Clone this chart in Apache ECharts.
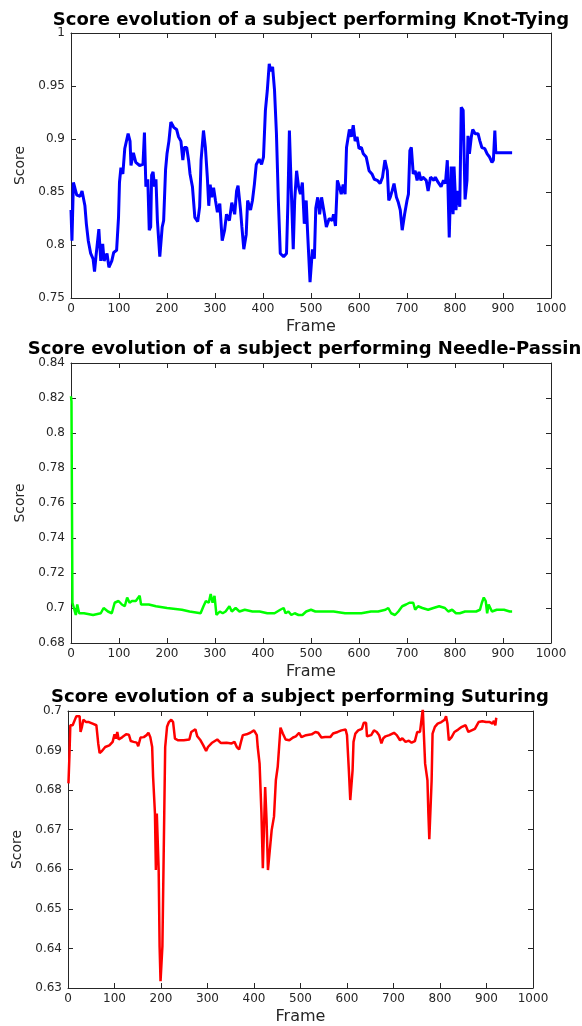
<!DOCTYPE html>
<html>
<head>
<meta charset="utf-8">
<script src="https://cdn.jsdelivr.net/npm/echarts@6.0.0/dist/echarts.min.js"></script>
<style>
html, body { margin: 0; padding: 0; background: #fff; }
#main { width: 582px; height: 1026px; }
</style>
</head>
<body>
<div id="main"></div>
<script>
// knot-tying (blue)
var knotFrames = [0,2,5,8,12,19,23,27,29,32,36,41,46,49,52,58,62,66,69,75,79,85,89,95,99,101,104,108,112,116,119,123,125,130,135,143,150,153,156,160,163,166,168,171,174,177,180,185,190,193,197,200,204,208,214,220,224,229,233,236,241,245,248,253,258,264,268,271,276,280,284,287,290,293,297,301,305,310,315,320,324,330,335,341,345,348,353,356,360,365,368,374,378,382,386,392,397,401,405,409,413,416,420,424,428,432,436,443,449,452,455,459,463,466,470,474,478,482,486,490,493,498,503,507,510,514,518,522,528,532,538,544,547,551,555,559,563,567,571,574,580,584,588,592,596,600,605,609,615,621,627,632,638,644,649,654,659,662,665,669,673,678,682,686,690,695,700,703,706,709,713,717,721,725,729,733,740,744,749,756,759,765,771,776,780,784,788,792,796,798,802,805,810,813,817,821,825,827,830,834,837,842,848,852,856,862,867,872,877,880,883,885,890,902,919];
var knotScores = [0.833,0.804,0.859,0.854,0.847,0.846,0.851,0.850,0.837,0.820,0.804,0.792,0.787,0.775,0.789,0.815,0.785,0.801,0.785,0.792,0.779,0.785,0.793,0.795,0.826,0.859,0.873,0.867,0.891,0.892,0.905,0.898,0.875,0.887,0.878,0.875,0.876,0.906,0.855,0.862,0.814,0.817,0.866,0.869,0.855,0.862,0.823,0.789,0.817,0.823,0.871,0.886,0.898,0.916,0.911,0.909,0.902,0.898,0.880,0.892,0.892,0.880,0.867,0.855,0.826,0.822,0.836,0.880,0.908,0.892,0.864,0.837,0.857,0.845,0.854,0.842,0.831,0.839,0.804,0.814,0.829,0.823,0.840,0.829,0.851,0.856,0.834,0.817,0.796,0.810,0.842,0.833,0.842,0.857,0.876,0.881,0.876,0.883,0.927,0.946,0.971,0.964,0.968,0.946,0.905,0.842,0.792,0.789,0.792,0.842,0.908,0.851,0.796,0.842,0.870,0.855,0.848,0.859,0.820,0.842,0.811,0.765,0.796,0.787,0.835,0.845,0.829,0.845,0.829,0.817,0.825,0.823,0.829,0.818,0.861,0.855,0.848,0.857,0.848,0.892,0.909,0.902,0.913,0.898,0.902,0.891,0.892,0.886,0.883,0.870,0.867,0.862,0.861,0.858,0.864,0.880,0.870,0.842,0.845,0.851,0.858,0.845,0.840,0.833,0.814,0.829,0.842,0.848,0.889,0.892,0.867,0.870,0.861,0.869,0.861,0.864,0.861,0.851,0.864,0.861,0.864,0.859,0.855,0.861,0.858,0.880,0.807,0.874,0.829,0.874,0.833,0.851,0.836,0.930,0.927,0.843,0.861,0.903,0.886,0.902,0.909,0.905,0.905,0.898,0.892,0.891,0.886,0.883,0.878,0.880,0.908,0.887,0.887,0.887,0.887];

// needle-passing (green)
var needleFrames = [0,1,2,3,5,10,13,17,27,46,62,68,77,85,91,99,106,112,117,122,127,135,143,146,154,162,177,200,231,247,270,276,281,287,291,295,299,303,310,316,322,330,335,343,351,362,378,393,409,424,436,443,447,453,459,466,474,482,490,500,509,524,547,571,586,605,625,640,655,661,667,675,682,690,698,705,713,717,723,732,744,755,767,779,786,794,802,810,821,833,844,852,856,860,864,867,870,874,877,887,902,914,919];
var needleScores = [0.821,0.818,0.76,0.703,0.701,0.696,0.702,0.697,0.697,0.696,0.697,0.700,0.698,0.697,0.703,0.704,0.702,0.701,0.706,0.703,0.704,0.704,0.707,0.702,0.702,0.702,0.701,0.700,0.699,0.698,0.697,0.701,0.704,0.703,0.708,0.703,0.707,0.696,0.698,0.697,0.698,0.701,0.698,0.700,0.698,0.699,0.698,0.698,0.697,0.697,0.699,0.700,0.697,0.698,0.696,0.697,0.696,0.696,0.698,0.699,0.698,0.698,0.698,0.697,0.697,0.697,0.698,0.698,0.699,0.700,0.697,0.696,0.698,0.701,0.702,0.703,0.703,0.699,0.701,0.700,0.699,0.700,0.701,0.700,0.698,0.699,0.697,0.697,0.698,0.698,0.698,0.699,0.703,0.706,0.704,0.697,0.702,0.703,0.698,0.699,0.699,0.698,0.698];

// suturing (red)
var sutFrames = [1,3,5,10,14,18,22,25,27,30,33,39,45,53,61,65,68,73,80,89,96,100,103,106,109,117,125,131,135,141,148,151,156,163,169,173,177,181,183,187,189,191,193,195,197,199,202,203,207,209,213,217,222,226,230,237,249,261,265,269,274,278,285,291,297,301,309,321,329,341,352,358,363,368,372,376,384,392,400,406,408,412,416,419,422,424,427,430,433,438,443,447,451,454,457,462,468,476,484,490,497,502,512,524,532,538,545,553,557,564,570,580,588,597,600,604,607,610,612,614,618,624,632,636,641,643,652,658,664,669,674,678,683,691,701,707,714,719,726,733,739,746,751,757,759,763,765,768,771,773,775,777,779,782,784,789,795,803,810,813,816,819,825,831,839,847,855,861,868,875,883,891,899,907,913,916,919,921];
var sutScores = [0.6817,0.6884,0.6964,0.6964,0.6966,0.6987,0.6989,0.6987,0.6947,0.696,0.6978,0.6972,0.6972,0.6968,0.6964,0.6918,0.6894,0.6899,0.6909,0.6913,0.6922,0.6941,0.693,0.6947,0.6928,0.6934,0.6941,0.694,0.6924,0.6922,0.692,0.6911,0.6933,0.6934,0.6939,0.6945,0.6934,0.6909,0.6834,0.6741,0.6598,0.6741,0.6741,0.6598,0.6405,0.6317,0.6317,0.6405,0.6741,0.6909,0.696,0.6972,0.6978,0.6972,0.693,0.6926,0.6926,0.6928,0.6947,0.6942,0.6954,0.6936,0.6926,0.6913,0.6899,0.6909,0.6919,0.6928,0.6919,0.692,0.6918,0.6922,0.6909,0.6903,0.6922,0.6939,0.6941,0.6945,0.6951,0.6939,0.6909,0.6867,0.6741,0.6603,0.6603,0.6808,0.6724,0.6598,0.6598,0.6699,0.6733,0.6825,0.6859,0.6909,0.6958,0.6943,0.6928,0.6926,0.6933,0.6936,0.6945,0.6934,0.6939,0.6941,0.6947,0.6945,0.6933,0.6934,0.6939,0.6934,0.6943,0.6947,0.6951,0.6953,0.6939,0.685,0.6775,0.6775,0.685,0.6922,0.6943,0.6951,0.6955,0.697,0.697,0.6936,0.6939,0.6951,0.6947,0.6939,0.6918,0.6931,0.6936,0.6939,0.6945,0.6939,0.6926,0.6931,0.6922,0.6925,0.692,0.6924,0.6947,0.6947,0.6951,0.7005,0.7005,0.6867,0.6867,0.6825,0.6741,0.6676,0.6676,0.6825,0.6943,0.696,0.6968,0.6972,0.6978,0.6987,0.6968,0.6926,0.6934,0.6947,0.6953,0.696,0.6964,0.6947,0.6951,0.6955,0.6972,0.6974,0.6972,0.6972,0.6968,0.6975,0.6964,0.6983];

var titles = ['Score evolution of a subject performing Knot-Tying',
              'Score evolution of a subject performing Needle-Passing',
              'Score evolution of a subject performing Suturing'];
var yRanges = [[0.75, 1, 0.05], [0.68, 0.84, 0.02], [0.63, 0.7, 0.01]];

var axisColor = '#262626';
var font = 'DejaVu Sans';

function pairs(xs, ys) {
    return xs.map(function (x, i) { return [x, ys[i]]; });
}

function xAxis(g, top) {
    return {
        gridIndex: g, type: 'value', min: 0, max: 1000, interval: 100,
        position: top ? 'top' : 'bottom',
        name: top ? '' : 'Frame', nameLocation: 'middle', nameGap: 21,
        nameTextStyle: { fontFamily: font, fontSize: 16, color: axisColor },
        axisLine: { onZero: false, lineStyle: { color: axisColor, width: 1 } },
        axisTick: { inside: true, length: 5, lineStyle: { color: axisColor } },
        axisLabel: { show: !top, margin: 5, fontFamily: font, fontSize: 12, color: axisColor,
                     formatter: function (v) { return String(v); } },
        splitLine: { show: false }
    };
}
function yAxis(g, right, gap) {
    var r = yRanges[g];
    return {
        gridIndex: g, type: 'value', min: r[0], max: r[1], interval: r[2],
        position: right ? 'right' : 'left',
        name: right ? '' : 'Score', nameLocation: 'middle', nameGap: gap,
        nameTextStyle: { fontFamily: font, fontSize: 14, color: axisColor },
        axisLine: { onZero: false, lineStyle: { color: axisColor, width: 1 } },
        axisTick: { inside: true, length: 5, lineStyle: { color: axisColor } },
        axisLabel: { show: !right, margin: 6, fontFamily: font, fontSize: 12, color: axisColor },
        splitLine: { show: false }
    };
}
function titleOpt(i, x, y) {
    return {
        text: titles[i], left: x, top: y, textAlign: 'center', textVerticalAlign: 'middle', padding: 0,
        textStyle: { fontFamily: font, fontWeight: 'bold', fontSize: 18, color: '#000' }
    };
}
function lineSeries(i, data, color, w) {
    return {
        type: 'line', xAxisIndex: i * 2, yAxisIndex: i * 2, data: data,
        showSymbol: false, symbol: 'none', clip: true,
        lineStyle: { color: color, width: w }, itemStyle: { color: color }
    };
}

var myChart = echarts.init(document.getElementById('main'), null, { renderer: 'canvas' });
var option = {
    animation: false,
    backgroundColor: '#fff',
    title: [titleOpt(0, 311, 20), titleOpt(1, 311, 349), titleOpt(2, 300, 697)],
    grid: [
        { left: 71, top: 33, width: 480, height: 265 },
        { left: 71, top: 363, width: 480, height: 280 },
        { left: 68, top: 711, width: 465, height: 277 }
    ],
    xAxis: [xAxis(0), xAxis(0, true), xAxis(1), xAxis(1, true), xAxis(2), xAxis(2, true)],
    yAxis: [yAxis(0, false, 44), yAxis(0, true), yAxis(1, false, 44), yAxis(1, true), yAxis(2, false, 41), yAxis(2, true)],
    series: [
        lineSeries(0, pairs(knotFrames, knotScores), '#0000ff', 3),
        lineSeries(1, pairs(needleFrames, needleScores), '#00ff00', 2.5),
        lineSeries(2, pairs(sutFrames, sutScores), '#ff0000', 2.5)
    ]
};
myChart.setOption(option);
</script>
</body>
</html>
